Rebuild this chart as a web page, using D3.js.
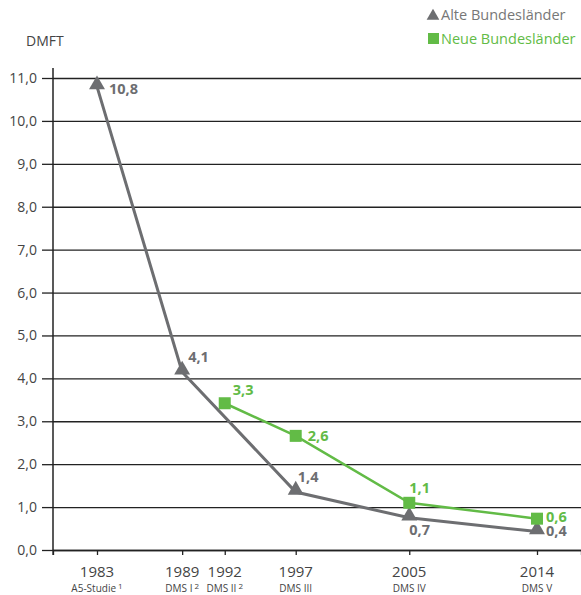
<!DOCTYPE html>
<html>
<head>
<meta charset="utf-8">
<script src="https://cdn.jsdelivr.net/npm/d3@7"></script>
<style>
  body { margin: 0; background: #fff; }
  svg text { font-family: "Open Sans", "Noto Sans", sans-serif; }
</style>
</head>
<body>
<div id="chart"></div>
<script>
// data
var years = [1983, 1989, 1992, 1997, 2005, 2014]
var studies = ["A5-Studie", "DMS I", "DMS II", "DMS III", "DMS IV", "DMS V"]
var studySup = ["1", "2", "2", "", "", ""]
var alteYears = [1983, 1989, 1997, 2005, 2014]
var alteValues = [10.8, 4.15, 1.35, 0.75, 0.43]
var alteLabels = ["10,8", "4,1", "1,4", "0,7", "0,4"]
var neueYears = [1992, 1997, 2005, 2014]
var neueValues = [3.42, 2.66, 1.1, 0.73]
var neueLabels = ["3,3", "2,6", "1,1", "0,6"]
var yTicks = [0, 1, 2, 3, 4, 5, 6, 7, 8, 9, 10, 11]

var width = 581, height = 595
var margin = {top: 68, right: 0, bottom: 45, left: 53}
var grey = '#6d6e71', green = '#62bb46'

var svg = d3.select("#chart")
  .append("svg")
  .attr("width", width)
  .attr("height", height)

var xScale = d3.scaleLinear()
  .domain([1979.9, 2017.1])
  .range([margin.left, width - margin.right])

var yScale = d3.scaleLinear()
  .domain([0, 11])
  .range([height - margin.bottom, 78])

// grid
svg.append("g")
  .attr("transform", `translate(${margin.left},0)`)
  .call(d3.axisLeft(yScale).tickValues(yTicks).tickSize(-(width - margin.left)).tickFormat(""))
  .call(g => g.select(".domain").remove())
  .selectAll("line")
  .style("stroke", "#222")
  .style("stroke-width", 1.3)

// y axis
var yAxis = svg.append("g")
  .attr("transform", `translate(${margin.left},0)`)
  .call(d3.axisLeft(yScale).tickValues(yTicks).tickSize(11).tickPadding(5)
    .tickFormat(d => d3.format(".1f")(d).replace(".", ",")))
yAxis.select(".domain").remove()
yAxis.selectAll("line").style("stroke", "#222").style("stroke-width", 1.3)
yAxis.selectAll("text").style("font-size", "14px").style("fill", "#444")
svg.append("line")
  .attr("x1", margin.left).attr("x2", margin.left)
  .attr("y1", margin.top).attr("y2", yScale(0))
  .style("stroke", "#222").style("stroke-width", 1.5)

// x axis
var xAxis = svg.append("g")
  .attr("transform", `translate(0,${yScale(0)})`)
  .call(d3.axisBottom(xScale).tickValues(years).tickSize(5).tickFormat(""))
xAxis.select(".domain").style("stroke", "#222").style("stroke-width", 1.3)
xAxis.selectAll("line").style("stroke", "#222").style("stroke-width", 1.3)
svg.append("line")
  .attr("x1", margin.left).attr("x2", margin.left)
  .attr("y1", yScale(0)).attr("y2", yScale(0) + 5)
  .style("stroke", "#222").style("stroke-width", 1.3)

var xl = svg.append("g").selectAll("g")
  .data(years)
  .enter().append("g")
  .attr("transform", d => `translate(${xScale(d)},0)`)
xl.append("text")
  .attr("y", yScale(0) + 27)
  .attr("text-anchor", "middle")
  .style("font-size", "15px")
  .style("fill", "#444")
  .text(d => d)
var sub = xl.append("text")
  .attr("y", yScale(0) + 42)
  .attr("text-anchor", "middle")
  .style("font-size", "10px")
  .style("fill", "#444")
sub.append("tspan").text((d, i) => studies[i])
sub.append("tspan")
  .attr("dx", 2).attr("dy", -3)
  .style("font-size", "8px")
  .text((d, i) => studySup[i])

svg.append("text")
  .attr("x", 26).attr("y", 46)
  .style("font-size", "14px")
  .style("fill", "#444")
  .text("DMFT")

// lines
var alte = alteYears.map((d, i) => ({x: d, y: alteValues[i], t: alteLabels[i]}))
var neue = neueYears.map((d, i) => ({x: d, y: neueValues[i], t: neueLabels[i]}))
var line = d3.line().x(d => xScale(d.x)).y(d => yScale(d.y))

svg.append("path").datum(alte)
  .attr("d", line)
  .style("fill", "none").style("stroke", grey).style("stroke-width", 3)
svg.append("path").datum(neue)
  .attr("d", line)
  .style("fill", "none").style("stroke", green).style("stroke-width", 2.5)

var tri = d3.symbol().type(d3.symbolTriangle).size(110)
svg.selectAll(".tri").data(alte).enter().append("path")
  .attr("transform", d => `translate(${xScale(d.x)},${yScale(d.y) - 2})`)
  .attr("d", tri)
  .style("fill", grey)
svg.selectAll(".sq").data(neue).enter().append("rect")
  .attr("x", d => xScale(d.x) - 6).attr("y", d => yScale(d.y) - 6)
  .attr("width", 12).attr("height", 12)
  .style("fill", green)

// value labels: offsets per point
var alteOff = [[12, 7], [6, -10], [2, -10], [0, 17], [9, 4]]
var neueOff = [[8, -8], [12, 5], [0, -10], [9, 3]]
svg.selectAll(".la").data(alte).enter().append("text")
  .attr("x", (d, i) => xScale(d.x) + alteOff[i][0])
  .attr("y", (d, i) => yScale(d.y) + alteOff[i][1])
  .style("font-size", "14.5px").style("font-weight", "bold").style("fill", grey)
  .text(d => d.t)
svg.selectAll(".ln").data(neue).enter().append("text")
  .attr("x", (d, i) => xScale(d.x) + neueOff[i][0])
  .attr("y", (d, i) => yScale(d.y) + neueOff[i][1])
  .style("font-size", "14.5px").style("font-weight", "bold").style("fill", green)
  .text(d => d.t)

// legend
var leg = svg.append("g")
leg.append("path")
  .attr("transform", "translate(433,16)")
  .attr("d", d3.symbol().type(d3.symbolTriangle).size(70))
  .style("fill", grey)
leg.append("text").attr("x", 441).attr("y", 20)
  .style("font-size", "14.5px").style("fill", "#777")
  .text("Alte Bundesländer")
leg.append("rect").attr("x", 428).attr("y", 33).attr("width", 11).attr("height", 11)
  .style("fill", green)
leg.append("text").attr("x", 441).attr("y", 44)
  .style("font-size", "14.5px").style("fill", green)
  .text("Neue Bundesländer")
</script>
</body>
</html>
